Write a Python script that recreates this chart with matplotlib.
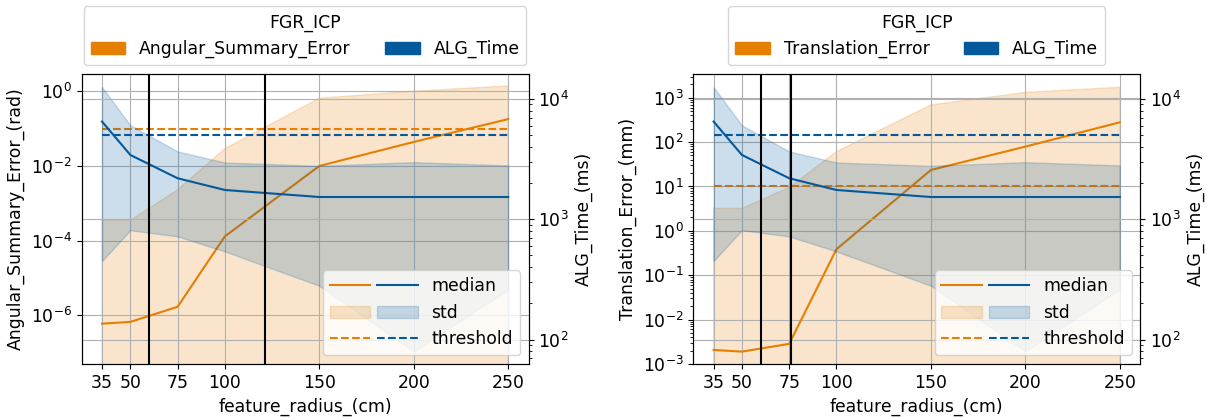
import matplotlib
matplotlib.use("Agg")
import matplotlib.pyplot as plt
import numpy as np
from matplotlib.patches import Patch
from matplotlib.legend_handler import HandlerTuple
from matplotlib.ticker import FixedLocator, NullLocator

# feature radius values (cm)
radius = [35, 50, 75, 100, 150, 200, 250]
radius_ticks = [35, 50, 75, 100, 150, 200, 250]

# ALG_Time (ms), shared by both panels
time_median = [6480, 3420, 2190, 1750, 1530, 1530, 1530]
time_std = [6030, 2610, 1470, 1210, 1250, 1450, 1270]
time_threshold = 5000

# Angular_Summary_Error (rad)
ang_median = [6.0e-7, 6.7e-7, 1.7e-6, 1.3e-4, 1.0e-2, 4.4e-2, 0.18]
ang_std = [3.5e-4, 3.5e-4, 2.3e-3, 0.029, 0.64, 0.96, 1.21]
ang_threshold = 0.1
ang_vlines = [60, 121]
ang_yticks = [1e-6, 1e-4, 1e-2, 1e0]

# Translation_Error (mm)
trans_median = [2.07e-3, 1.9e-3, 2.84e-3, 0.385, 23.5, 79, 279]
trans_std = [3.2, 3.2, 9.5, 60.6, 662, 1241, 1436]
trans_threshold = 10
trans_vlines = [60, 76]

ORANGE = '#e67f00'
BLUE = '#04599c'
FS = 12.4

plt.rcParams['font.size'] = FS


def draw_panel(ax, err_name, unit, median, std, threshold, vlines, ylim, yticks=None):
    x = np.array(radius)
    med = np.array(median)
    sd = np.array(std)
    tmed = np.array(time_median)
    tsd = np.array(time_std)

    ax.set_yscale('log')
    ax.plot(x, med, color=ORANGE, lw=1.5)
    fill_o = ax.fill_between(x, med - sd, med + sd, color=ORANGE, alpha=0.2)
    ax.plot([x[0], x[-1]], [threshold, threshold], color=ORANGE, ls='--', lw=1.5)
    ax.set_ylim(*ylim)
    if yticks is not None:
        ax.yaxis.set_major_locator(FixedLocator(yticks))
        ax.yaxis.set_minor_locator(NullLocator())
    ax.set_xticks(radius_ticks)
    ax.set_xlabel('feature_radius_(cm)')
    ax.set_ylabel(f'{err_name}_({unit})')
    ax.grid(True)

    tx = ax.twinx()
    tx.set_yscale('log')
    tx.plot(x, tmed, color=BLUE, lw=1.5)
    fill_b = tx.fill_between(x, tmed - tsd, tmed + tsd, color=BLUE, alpha=0.2)
    tx.plot([x[0], x[-1]], [time_threshold, time_threshold], color=BLUE, ls='--', lw=1.5)
    tx.set_ylim(62.7, 16100)
    tx.set_ylabel('ALG_Time_(ms)')
    tx.grid(True)
    for v in vlines:
        tx.axvline(v, color='k', lw=1.5)

    top = tx.legend(
        [Patch(color=ORANGE), Patch(color=BLUE)],
        [err_name, 'ALG_Time'],
        title='FGR_ICP', ncol=2, loc='lower center',
        bbox_to_anchor=(0.5, 1.0), title_fontsize=FS
    )
    tx.add_artist(top)

    h_med = (plt.Line2D([], [], color=ORANGE, lw=1.5), plt.Line2D([], [], color=BLUE, lw=1.5))
    h_std = (fill_o, fill_b)
    h_thr = (plt.Line2D([], [], color=ORANGE, lw=1.5, ls='--'),
             plt.Line2D([], [], color=BLUE, lw=1.5, ls='--'))
    tx.legend([h_med, h_std, h_thr], ['median', 'std', 'threshold'],
              handler_map={tuple: HandlerTuple(ndivide=None)},
              handlelength=5.1, loc='lower right')


fig = plt.figure(figsize=(12.07, 4.19), dpi=100)
ax1 = fig.add_axes([0.0677, 0.1313, 0.3702, 0.6921])
ax2 = fig.add_axes([0.5744, 0.1313, 0.3702, 0.6921])

draw_panel(ax1, 'Angular_Summary_Error', 'rad', ang_median, ang_std,
           ang_threshold, ang_vlines, (5e-8, 2.9), ang_yticks)
draw_panel(ax2, 'Translation_Error', 'mm', trans_median, trans_std,
           trans_threshold, trans_vlines, (1e-3, 3420))

fig.savefig('out.png', dpi=100)
plt.close(fig)
